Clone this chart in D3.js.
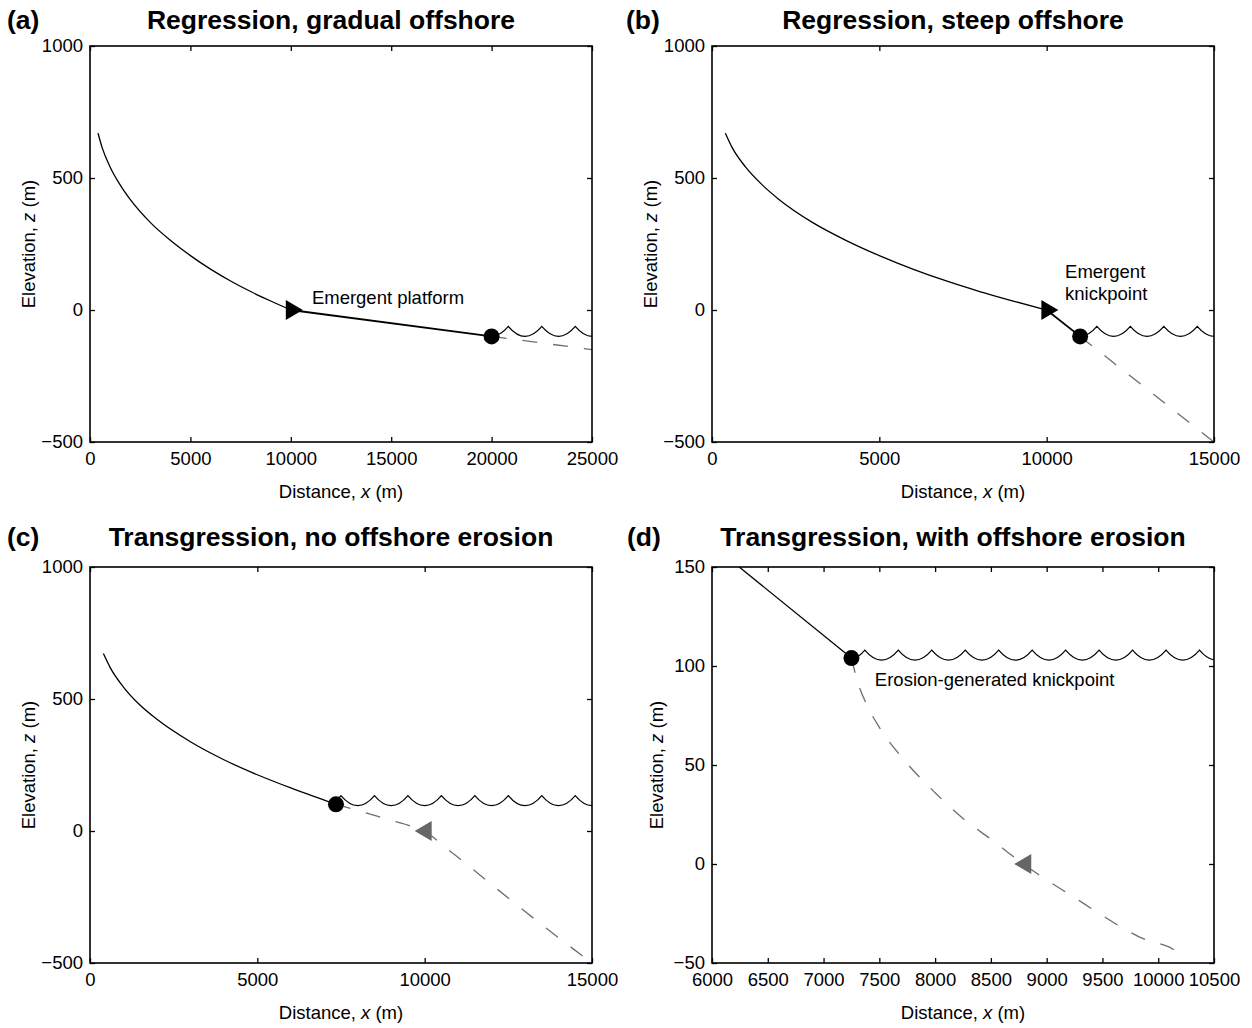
<!DOCTYPE html>
<html>
<head>
<meta charset="utf-8">
<script src="https://cdn.jsdelivr.net/npm/d3@7/dist/d3.min.js"></script>
<style>
  body { margin: 0; background: #fff; }
  svg { display: block; }
</style>
</head>
<body>
<svg id="chart" width="1252" height="1028"></svg>
<script>
// ---------------- DATA ----------------
const xTicksA = [0, 5000, 10000, 15000, 20000, 25000];
const xTicksBC = [0, 5000, 10000, 15000];
const xTicksD = [6000, 6500, 7000, 7500, 8000, 8500, 9000, 9500, 10000, 10500];
const yTicksABC = [-500, 0, 500, 1000];
const yTicksD = [-50, 0, 50, 100, 150];

const panelLabels = ["(a)", "(b)", "(c)", "(d)"];
const panelTitles = [
  "Regression, gradual offshore",
  "Regression, steep offshore",
  "Transgression, no offshore erosion",
  "Transgression, with offshore erosion"
];

// (a) regression, gradual offshore
const profA_x = [400, 600, 1000, 1500, 2000, 3000, 4000, 5000, 6000, 7000, 8000, 9000, 10000];
const profA_z = [670, 616, 542, 474, 419, 332, 264, 206, 155, 110, 70, 34, 0];
const platA_x = [10000, 20000];
const platA_z = [0, -100];
const dashA_x = [20000, 25000];
const dashA_z = [-100, -150];
const waveA_cusps = [20833, 22500, 24167];
const seaA = -100;
const shoreA = [20000, -100];
const triA = [10150, 0];

// (b) regression, steep offshore
const profB_x = [400, 600, 1000, 1500, 2000, 3000, 4000, 5000, 6000, 7000, 8000, 9000, 10000];
const profB_z = [670, 616, 542, 474, 419, 332, 264, 206, 155, 110, 70, 34, 0];
const segB_x = [10000, 11000];
const segB_z = [0, -100];
const dashB_x = [11000, 15000];
const dashB_z = [-100, -500];
const waveB_cusps = [11500, 12500, 13500, 14500];
const seaB = -100;
const shoreB = [11000, -100];
const triB = [10080, 0];

// (c) transgression, no offshore erosion
const profC_x = [400, 600, 1000, 1500, 2000, 3000, 4000, 5000, 6000, 7000, 7350];
const profC_z = [672, 620, 545, 476, 423, 338, 270, 213, 163, 117, 101];
const dashC_x = [7350, 8000, 9000, 9600, 10000, 10300, 10600, 11000, 12000, 13000, 14000, 15000];
const dashC_z = [101, 78, 40, 18, 0, -28, -60, -100, -203, -305, -404, -500];
const waveC_cusps = [7500, 8500, 9500, 10500, 11500, 12500, 13500, 14500];
const seaC = 96;
const shoreC = [7350, 101];
const triC = [9970, 0];

// (d) transgression, with offshore erosion
const profD_x = [6244, 7250];
const profD_z = [150, 104];
const dashD_x = [7250, 7300, 7400, 7500, 7700, 8000, 8250, 8500, 8790, 9000, 9250, 9500, 9750, 9900, 10000, 10100, 10250];
const dashD_z = [104, 93, 79, 69, 54, 36, 23, 12.5, 0, -8, -17, -26, -34.5, -38.5, -40, -42, -48];
const waveD_cusps = [7370, 7670, 7970, 8270, 8570, 8870, 9170, 9470, 9770, 10070, 10370];
const seaD = 103;
const shoreD = [7250, 104];
const triD = [8790, 0];

const annotA = [{ text: "Emergent platform", x: 11050, z: 23 }];
const annotB = [{ text: "Emergent", x: 10550, z: 121 }, { text: "knickpoint", x: 10550, z: 38 }];
const annotD = [{ text: "Erosion-generated knickpoint", x: 7460, z: 90 }];

// ---------------- DRAWING ----------------
const FONT = "'Liberation Sans', Arial, Helvetica, sans-serif";
const W = 502, H = 396;
const svg = d3.select("#chart");
svg.append("rect").attr("width", 1252).attr("height", 1028).attr("fill", "#fff");
const defs = svg.append("defs");
const fmt = d3.format("d");

function drawPanel(cfg) {
  const g = svg.append("g").attr("transform", `translate(${cfg.left},${cfg.top})`);
  const x = d3.scaleLinear().domain(cfg.xDomain).range([0, W]);
  const y = d3.scaleLinear().domain(cfg.yDomain).range([H, 0]);

  defs.append("clipPath").attr("id", "clip" + cfg.id)
    .append("rect").attr("x", 0).attr("y", 0).attr("width", W).attr("height", H);
  defs.append("clipPath").attr("id", "wclip" + cfg.id)
    .append("rect").attr("x", x(cfg.shore[0])).attr("y", -20)
    .attr("width", W - x(cfg.shore[0])).attr("height", H + 40);

  const plot = g.append("g").attr("clip-path", `url(#clip${cfg.id})`);
  const lineLin = d3.line().x(d => x(d[0])).y(d => y(d[1]));
  const lineCurve = d3.line().x(d => x(d[0])).y(d => y(d[1])).curve(d3.curveMonotoneX);

  // dashed (gray) offshore profile
  plot.append("path").datum(d3.zip(cfg.dashX, cfg.dashZ))
    .attr("d", cfg.dashCurve ? lineCurve : lineLin)
    .attr("fill", "none").attr("stroke", "#6e6e6e").attr("stroke-width", 1.3)
    .attr("stroke-dasharray", "15,16");

  // waves (sea surface) : scallops between cusps
  const period = cfg.cusps[1] - cfg.cusps[0];
  const cusps = [cfg.cusps[0] - period, ...cfg.cusps, cfg.cusps[cfg.cusps.length - 1] + period];
  const amp = 10;
  const ys = y(cfg.sea);
  let dstr = "";
  for (let i = 0; i < cusps.length - 1; i++) {
    const x0 = x(cusps[i]), x1 = x(cusps[i + 1]);
    if (i === 0) dstr += `M${x0},${ys - amp}`;
    dstr += `Q${(x0 + x1) / 2},${ys + amp} ${x1},${ys - amp}`;
  }
  plot.append("g").attr("clip-path", `url(#wclip${cfg.id})`)
    .append("path").attr("d", dstr)
    .attr("fill", "none").attr("stroke", "#000").attr("stroke-width", 1.2);

  // solid profile
  plot.append("path").datum(d3.zip(cfg.profX, cfg.profZ))
    .attr("d", cfg.profX.length > 2 ? lineCurve : lineLin)
    .attr("fill", "none").attr("stroke", "#000").attr("stroke-width", 1.3);
  if (cfg.segX) {
    plot.append("path").datum(d3.zip(cfg.segX, cfg.segZ))
      .attr("d", lineLin)
      .attr("fill", "none").attr("stroke", "#000").attr("stroke-width", 1.8);
  }

  // markers
  const tri = cfg.triDir === "right" ? "M-8,-10L9,0L-8,10Z" : "M8,-10L-9,0L8,10Z";
  g.append("path").attr("d", tri)
    .attr("transform", `translate(${x(cfg.tri[0])},${y(cfg.tri[1])})`)
    .attr("fill", cfg.triDir === "right" ? "#000" : "#666");
  g.append("circle").attr("cx", x(cfg.shore[0])).attr("cy", y(cfg.shore[1]))
    .attr("r", 8).attr("fill", "#000");

  // axes (inward ticks on all sides)
  const axB = d3.axisBottom(x).tickValues(cfg.xTicks).tickSize(-5).tickSizeOuter(0).tickPadding(10).tickFormat(fmt);
  const axT = d3.axisTop(x).tickValues(cfg.xTicks).tickSize(-5).tickSizeOuter(0).tickFormat("");
  const axL = d3.axisLeft(y).tickValues(cfg.yTicks).tickSize(-5).tickSizeOuter(0).tickPadding(7).tickFormat(fmt);
  const axR = d3.axisRight(y).tickValues(cfg.yTicks).tickSize(-5).tickSizeOuter(0).tickFormat("");
  const gb = g.append("g").attr("transform", `translate(0,${H})`).call(axB);
  const gt = g.append("g").call(axT);
  const gl = g.append("g").call(axL);
  const gr = g.append("g").attr("transform", `translate(${W},0)`).call(axR);
  [gb, gt, gl, gr].forEach(a => {
    a.select(".domain").remove();
    a.selectAll("line").attr("stroke", "#000").attr("stroke-width", 1.3);
    a.selectAll("text").attr("fill", "#000").style("font-family", FONT).style("font-size", "18.5px");
  });
  g.append("rect").attr("x", 0).attr("y", 0).attr("width", W).attr("height", H)
    .attr("fill", "none").attr("stroke", "#000").attr("stroke-width", 1.6);

  // axis labels
  const xl = g.append("text").attr("x", W / 2).attr("y", H + 55.5)
    .attr("text-anchor", "middle").style("font-family", FONT).style("font-size", "18.5px");
  xl.append("tspan").text("Distance, ");
  xl.append("tspan").style("font-style", "italic").text("x");
  xl.append("tspan").text(" (m)");
  const yl = g.append("text").attr("transform", `translate(${-cfg.ylabOff},${H / 2}) rotate(-90)`)
    .attr("text-anchor", "middle").style("font-family", FONT).style("font-size", "18.5px");
  yl.append("tspan").text("Elevation, ");
  yl.append("tspan").style("font-style", "italic").text("z");
  yl.append("tspan").text(" (m)");

  // annotations
  (cfg.annot || []).forEach(a => {
    g.append("text").attr("x", x(a.x)).attr("y", y(a.z))
      .style("font-family", FONT).style("font-size", "18.5px").text(a.text);
  });

  // title + panel label
  svg.append("text").attr("x", cfg.left + W / 2 - 10).attr("y", cfg.titleY)
    .attr("text-anchor", "middle").style("font-family", FONT).style("font-size", "26.5px")
    .style("font-weight", "bold").text(cfg.title);
  svg.append("text").attr("x", cfg.labelX).attr("y", cfg.titleY)
    .style("font-family", FONT).style("font-size", "26.5px")
    .style("font-weight", "bold").text(cfg.label);
}

drawPanel({
  id: "a", left: 90, top: 46, xDomain: [0, 25000], yDomain: [-500, 1000],
  xTicks: xTicksA, yTicks: yTicksABC, profX: profA_x, profZ: profA_z,
  segX: platA_x, segZ: platA_z, dashX: dashA_x, dashZ: dashA_z,
  cusps: waveA_cusps, sea: seaA, shore: shoreA, tri: triA, triDir: "right",
  annot: annotA, title: panelTitles[0], label: panelLabels[0], titleY: 29, labelX: 7, ylabOff: 55
});
drawPanel({
  id: "b", left: 712, top: 46, xDomain: [0, 15000], yDomain: [-500, 1000],
  xTicks: xTicksBC, yTicks: yTicksABC, profX: profB_x, profZ: profB_z,
  segX: segB_x, segZ: segB_z, dashX: dashB_x, dashZ: dashB_z,
  cusps: waveB_cusps, sea: seaB, shore: shoreB, tri: triB, triDir: "right",
  annot: annotB, title: panelTitles[1], label: panelLabels[1], titleY: 29, labelX: 626, ylabOff: 55
});
drawPanel({
  id: "c", left: 90, top: 567, xDomain: [0, 15000], yDomain: [-500, 1000],
  xTicks: xTicksBC, yTicks: yTicksABC, profX: profC_x, profZ: profC_z,
  dashX: dashC_x, dashZ: dashC_z, dashCurve: true,
  cusps: waveC_cusps, sea: seaC, shore: shoreC, tri: triC, triDir: "left",
  title: panelTitles[2], label: panelLabels[2], titleY: 546, labelX: 7, ylabOff: 55
});
drawPanel({
  id: "d", left: 712, top: 567, xDomain: [6000, 10500], yDomain: [-50, 150],
  xTicks: xTicksD, yTicks: yTicksD, profX: profD_x, profZ: profD_z,
  dashX: dashD_x, dashZ: dashD_z, dashCurve: true,
  cusps: waveD_cusps, sea: seaD, shore: shoreD, tri: triD, triDir: "left",
  annot: annotD, title: panelTitles[3], label: panelLabels[3], titleY: 546, labelX: 627, ylabOff: 49
});
</script>
</body>
</html>
